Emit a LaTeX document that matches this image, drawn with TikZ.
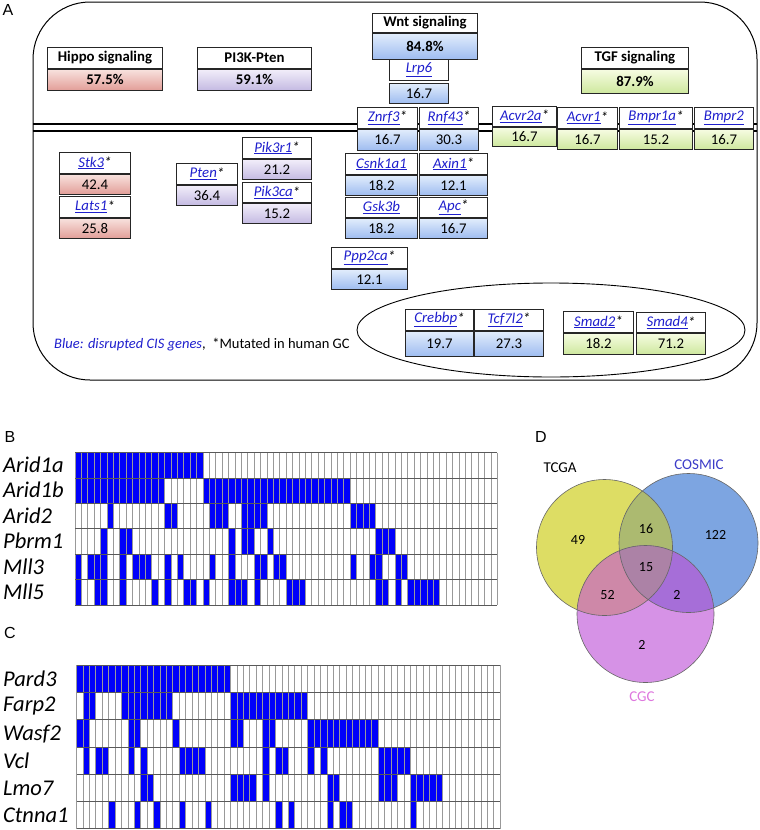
\documentclass[tikz,border=0pt]{standalone}
\usepackage{fontspec}
\setmainfont{Carlito}
\newfontfamily\labfont{Liberation Sans}
\definecolor{gblue}{RGB}{30,30,205}
\definecolor{hipT}{RGB}{248,226,222}\definecolor{hipB}{RGB}{226,158,152}
\definecolor{piT}{RGB}{242,238,250}\definecolor{piB}{RGB}{196,186,226}
\definecolor{wntT}{RGB}{226,237,252}\definecolor{wntB}{RGB}{158,188,240}
\definecolor{tgfT}{RGB}{246,252,226}\definecolor{tgfB}{RGB}{206,232,158}
\definecolor{cellblue}{RGB}{0,0,250}
\definecolor{vyel}{RGB}{221,221,100}
\definecolor{vblu}{RGB}{125,165,225}
\definecolor{vpur}{RGB}{214,146,230}
\definecolor{vTC}{RGB}{172,186,112}
\definecolor{vTG}{RGB}{206,136,168}
\definecolor{vCG}{RGB}{166,110,216}
\definecolor{vTCG}{RGB}{172,130,166}
\definecolor{cosmicc}{RGB}{60,60,200}
\definecolor{cgcc}{RGB}{222,120,222}
\tikzset{
  gtop/.style={draw=black!85, line width=0.9pt, fill=white, inner sep=0pt, font=\fontsize{14.8}{16}\selectfont},
  hippoF/.style={top color=hipT, bottom color=hipB},
  piF/.style={top color=piT, bottom color=piB},
  wntF/.style={top color=wntT, bottom color=wntB},
  tgfF/.style={top color=tgfT, bottom color=tgfB},
  vline/.style={draw=black!40, line width=0.7pt},
  hline/.style={draw=black!65, line width=0.8pt},
  rowlab/.style={anchor=west, inner sep=0pt, font=\itshape\fontsize{22.5}{25}\selectfont},
  panlab/.style={inner sep=0pt, font=\labfont\fontsize{16}{18}\selectfont},
  vnum/.style={inner sep=0pt, font=\fontsize{14}{15}\selectfont},
}
\newcommand\gn[1]{\textcolor{gblue}{\itshape\underline{#1}}}
\newcommand\gs[1]{\gn{#1}{\itshape\raisebox{-0.5pt}{*}}}
% id, x, y, w, h1, h2, name, value, fill style
\newcommand\gbox[9]{%
  \node[gtop, minimum width=#4pt, minimum height=#5pt, anchor=north west] (#1) at (#2,#3) {#7};
  \node[gtop, #9, minimum width=#4pt, minimum height=#6pt, anchor=north] (#1v) at (#1.south) {#8};}
\begin{document}
\begin{tikzpicture}[x=1pt,y=-1pt]
\useasboundingbox (0,0) rectangle (760,830);
% ---------------- Panel A ----------------
\node[panlab] (labA) at (8,10) {A};
\draw[line width=1pt, rounded corners=57pt] (33,2) rectangle (757,380);
\draw[line width=1.3pt] (33,124) -- (757,124);
\draw[line width=1.3pt] (33,131) -- (757,131);
\draw[line width=0.9pt] (551,330) ellipse [x radius=194, y radius=47];
% headers
\gbox{hippo}{47}{47}{115}{21}{21}{\bfseries Hippo signaling}{\bfseries 57.5\%}{hippoF}
\gbox{pik}{197}{47}{114}{21}{21}{\bfseries PI3K-Pten}{\bfseries 59.1\%}{piF}
\gbox{wnt}{372}{13}{105}{19}{26}{\bfseries Wnt signaling}{\bfseries 84.8\%}{wntF}
\gbox{tgf}{581}{47}{107}{21}{24}{\bfseries TGF signaling}{\bfseries 87.9\%}{tgfF}
% Lrp6
\node[gtop, minimum width=59pt, minimum height=21pt, anchor=north west] (lrp6) at (389,59) {\gn{Lrp6}};
\node[gtop, wntF, minimum width=59pt, minimum height=20pt, anchor=north] (lrp6v) at ([yshift=-2pt]lrp6.south) {16.7};
% membrane genes
\gbox{znrf3}{357}{107}{60}{21}{21}{\gs{Znrf3}}{16.7}{wntF}
\gbox{rnf43}{419}{107}{59}{21}{21}{\gs{Rnf43}}{30.3}{wntF}
\gbox{acvr2a}{492}{106}{64}{20}{19}{\gs{Acvr2a}}{16.7}{tgfF}
\gbox{acvr1}{557}{107}{60}{21}{20}{\gs{Acvr1}}{16.7}{tgfF}
\gbox{bmpr1a}{619}{107}{73}{21}{20}{\gs{Bmpr1a}}{15.2}{tgfF}
\gbox{bmpr2}{694}{107}{59}{21}{20}{\gn{Bmpr2}}{16.7}{tgfF}
% Wnt cytoplasm
\gbox{csnk}{345}{153}{72}{21}{20}{\gn{Csnk1a1}}{18.2}{wntF}
\gbox{axin}{419}{153}{68}{21}{20}{\gs{Axin1}}{12.1}{wntF}
\gbox{gsk}{345}{197}{72}{20}{20}{\gn{Gsk3b}}{18.2}{wntF}
\gbox{apc}{419}{197}{68}{20}{20}{\gs{Apc}}{16.7}{wntF}
\gbox{ppp}{331}{247}{76}{21}{20}{\gs{Ppp2ca}}{12.1}{wntF}
% Hippo
\gbox{stk}{59}{152}{71}{21}{20}{\gs{Stk3}}{42.4}{hippoF}
\gbox{lats}{59}{196}{71}{21}{20}{\gs{Lats1}}{25.8}{hippoF}
% PI3K
\gbox{pten}{176}{163}{61}{21}{20}{\gs{Pten}}{36.4}{piF}
\gbox{pikr}{242}{137}{69}{21}{20}{\gs{Pik3r1}}{21.2}{piF}
\gbox{pikc}{242}{182}{69}{20}{20}{\gs{Pik3ca}}{15.2}{piF}
% nucleus
\gbox{creb}{405}{309}{68}{21}{25}{\gs{Crebbp}}{19.7}{wntF}
\gbox{tcf}{474}{309}{69}{21}{25}{\gs{Tcf7l2}}{27.3}{wntF}
\gbox{smadb}{563}{311}{70}{21}{21}{\gs{Smad2}}{18.2}{tgfF}
\gbox{smadd}{636}{312}{69}{20}{21}{\gs{Smad4}}{71.2}{tgfF}
\node[anchor=west, inner sep=0pt, font=\fontsize{14.5}{16}\selectfont] (legend) at (54,345)
  {\textcolor{gblue}{\itshape Blue: disrupted CIS genes},\ \ *Mutated in human GC};
% ---------------- Panel B ----------------
\node[panlab] (labB) at (10,437) {B};
\foreach \r/\a/\b in {0/0/19, 1/0/13, 1/20/42,
  2/5/5, 2/14/15, 2/21/23, 2/26/29, 2/43/46,
  3/4/4, 3/7/8, 3/24/24, 3/26/27, 3/30/30, 3/47/49,
  4/0/0, 4/2/4, 4/7/7, 4/9/11, 4/14/14, 4/16/16, 4/21/21, 4/24/24, 4/28/29, 4/31/32, 4/43/43, 4/46/47, 4/50/51,
  5/0/0, 5/3/4, 5/7/7, 5/12/12, 5/14/14, 5/17/18, 5/20/20, 5/24/26, 5/28/28, 5/33/35, 5/47/48, 5/50/50, 5/52/56}
  \fill[cellblue] ({75+6.4*\a},{452.5+25.4*\r}) rectangle ({75+6.4*(\b+1)},{452.5+25.4*(\r+1)});
\foreach \i in {0,...,66} \draw[vline] ({75+6.4*\i},452.5) -- ({75+6.4*\i},604.9);
\foreach \r in {0,...,6} \draw[hline] (75,{452.5+25.4*\r}) -- (497.4,{452.5+25.4*\r});
\foreach \n/\t [count=\k from 0] in {ba/Arid1a, bb/Arid1b, bc/Arid2, bd/Pbrm1, be/Mll3, bf/Mll5}
  \node[rowlab] (\n) at (3,{452.5+25.4*\k+12.2}) {\t};
% ---------------- Panel C ----------------
\node[panlab] (labC) at (10,633) {C};
\foreach \r/\a/\b in {0/0/23,
  1/1/2, 1/7/14, 1/24/35,
  2/0/1, 2/8/9, 2/15/15, 2/24/25, 2/29/30, 2/36/46,
  3/1/1, 3/3/4, 3/8/8, 3/10/10, 3/16/19, 3/29/29, 3/31/32, 3/36/36, 3/38/38, 3/47/51,
  4/10/11, 4/24/27, 4/29/29, 4/39/40, 4/47/49, 4/52/56,
  5/5/5, 5/9/9, 5/12/12, 5/16/16, 5/20/20, 5/31/31, 5/33/33, 5/39/39, 5/41/42, 5/52/52}
  \fill[cellblue] ({76.5+6.42*\a},{665+27.3*\r}) rectangle ({76.5+6.42*(\b+1)},{665+27.3*(\r+1)});
\foreach \i in {0,...,66} \draw[vline] ({76.5+6.42*\i},665) -- ({76.5+6.42*\i},828.8);
\foreach \r in {0,...,6} \draw[hline] (76.5,{665+27.3*\r}) -- (500.2,{665+27.3*\r});
\foreach \n/\t [count=\k from 0] in {ca/Pard3, cb/Farp2, cc/Wasf2, cd/Vcl, ce/Lmo7, cf/Ctnna1}
  \node[rowlab] (\n) at (3,{665+27.3*\k+14}) {\t};
% ---------------- Panel D ----------------
\node[panlab] (labD) at (541,437) {D};
\coordinate (T) at (604.5,547.5);
\coordinate (Q) at (688.5,543);
\coordinate (G) at (645.5,614);
\fill[vyel] (T) circle[radius=68];
\fill[vblu] (Q) circle[radius=69.5];
\fill[vpur] (G) circle[radius=68.5];
\begin{scope}\clip (T) circle[radius=68];
  \fill[vTC] (Q) circle[radius=69.5];
  \fill[vTG] (G) circle[radius=68.5];
\end{scope}
\begin{scope}\clip (Q) circle[radius=69.5];
  \fill[vCG] (G) circle[radius=68.5];
\end{scope}
\begin{scope}\clip (T) circle[radius=68]; \clip (Q) circle[radius=69.5];
  \fill[vTCG] (G) circle[radius=68.5];
\end{scope}
\draw[black!60, line width=0.6pt] (T) circle[radius=68];
\draw[black!60, line width=0.6pt] (Q) circle[radius=69.5];
\draw[black!60, line width=0.6pt] (G) circle[radius=68.5];
\node[inner sep=0pt, font=\fontsize{15}{16}\selectfont] (tcga) at (560,468) {TCGA};
\node[inner sep=0pt, font=\fontsize{15}{16}\selectfont, text=cosmicc] (cosmic) at (699,465) {COSMIC};
\node[inner sep=0pt, font=\fontsize{15}{16}\selectfont, text=cgcc] (cgc) at (642,697) {CGC};
\node[vnum] (n49) at (578,540) {49};
\node[vnum] (n16) at (646,529) {16};
\node[vnum] (n122) at (715.5,535) {122};
\node[vnum] (n15) at (646,567) {15};
\node[vnum] (n52) at (607.5,595) {52};
\node[vnum] (n2a) at (677,595) {2};
\node[vnum] (n2b) at (642,645) {2};
\end{tikzpicture}
\end{document}
